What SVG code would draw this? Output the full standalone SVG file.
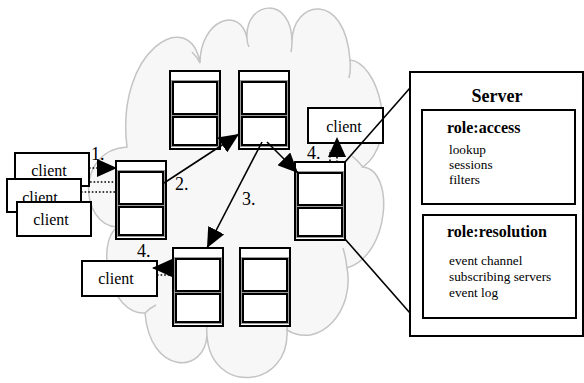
<svg xmlns="http://www.w3.org/2000/svg" xmlns:xlink="http://www.w3.org/1999/xlink" width="584" height="383" viewBox="0 0 584 383">
<style>
.cloud{fill:#f7f7f7;stroke:#c4c4c4;stroke-width:1.5}
.inner{fill:none;stroke:#c4c4c4;stroke-width:1.5}
.box{fill:#fff;stroke:#000;stroke-width:2}
.halo{fill:none;stroke:#9a9a9a;stroke-width:4}
.ln{stroke:#000;stroke-width:1.6;fill:none}
.dot{stroke:#000;stroke-width:1.6;fill:none;stroke-dasharray:1.6 2}
.t{font-family:"Liberation Serif","Times New Roman",serif;fill:#000}
.cl{font-size:16px;text-anchor:middle}
.num{font-size:18px}
.b{font-weight:bold}
.sm{font-size:13.3px}
</style>
<defs>
<marker id="ah" markerUnits="userSpaceOnUse" markerWidth="20" markerHeight="18" refX="20" refY="9" orient="auto" viewBox="0 0 20 18"><path d="M0,0 L20,9 L0,18 z" fill="#000"/></marker>
<g id="srv">
<rect class="box" x="0" y="0" width="50" height="78"/>
<rect class="halo" x="3" y="11" width="44" height="32"/>
<rect class="halo" x="3" y="46" width="44" height="28"/>
<rect class="box" x="3" y="11" width="44" height="32"/>
<rect class="box" x="3" y="46" width="44" height="28"/>
</g>
</defs>

<g id="cloud">
<path class="cloud" d="M127,147 C115,50 190,5 200,63 C200,20 240,5 247,38 C245,0 292,-5 292,42 C292,0 345,-10 350,60 C378,62 400,140 363,167 C395,170 390,255 347,268 C355,310 320,350 287,330 C290,390 210,395 207,335 C205,375 150,375 145,313 C110,315 95,245 117,227 C80,225 75,150 127,147 Z"/>
<path class="inner" d="M200,63 Q197,57 192,52 M247,38 Q247,43 249,47 M292,42 Q292,47 291,52 M350,60 Q351,70 349,78 M363,167 Q357,160 352,156 M347,268 Q346,258 343,248 M287,330 Q288,320 285,312 M207,335 Q206,327 208,320 M145,313 Q150,308 156,305 M117,227 Q121,232 126,235"/>
</g>

<g id="server-top-left"><use xlink:href="#srv" href="#srv" x="170" y="71"/></g>
<g id="server-top-mid"><use xlink:href="#srv" href="#srv" x="239" y="71"/></g>
<g id="server-entry"><use xlink:href="#srv" href="#srv" x="116" y="161"/></g>
<g id="server-right"><use xlink:href="#srv" href="#srv" x="295" y="162"/></g>
<g id="server-bottom-left"><use xlink:href="#srv" href="#srv" x="173" y="248"/></g>
<g id="server-bottom-right"><use xlink:href="#srv" href="#srv" x="240" y="248"/></g>

<g id="client-1"><rect class="box" x="15" y="153" width="74" height="33"/><text class="t cl" x="49" y="176">client</text></g>
<g id="client-2"><rect class="box" x="7" y="179" width="74" height="33"/><text class="t cl" x="40" y="203">client</text></g>
<g id="client-3"><rect class="box" x="17" y="202" width="74" height="34"/><text class="t cl" x="51" y="225">client</text></g>
<g id="client-top"><rect class="box" x="308" y="108" width="75" height="35"/><text class="t cl" x="344" y="132">client</text></g>
<g id="client-bottom"><rect class="box" x="82" y="261" width="75" height="35"/><text class="t cl" x="116" y="284">client</text></g>

<g id="server-detail">
<rect class="box" x="410" y="72" width="173" height="264"/>
<text class="t b" x="497" y="102" font-size="18" text-anchor="middle">Server</text>
<g id="role-access">
<rect class="box" x="422" y="110" width="153" height="94"/>
<text class="t b" x="447" y="133" font-size="16">role:access</text>
<text class="t sm" x="449" y="154">lookup</text>
<text class="t sm" x="449" y="169">sessions</text>
<text class="t sm" x="449" y="184">filters</text>
</g>
<g id="role-resolution">
<rect class="box" x="423" y="215" width="153" height="103"/>
<text class="t b" x="447" y="237" font-size="16">role:resolution</text>
<text class="t sm" x="449" y="265">event channel</text>
<text class="t sm" x="449" y="281">subscribing servers</text>
<text class="t sm" x="449" y="297">event log</text>
</g>
</g>

<g id="connectors">
<line class="dot" x1="89" y1="168" x2="117" y2="168" marker-end="url(#ah)"/>
<line class="dot" x1="90" y1="182" x2="115" y2="182"/>
<line class="dot" x1="81" y1="192" x2="115" y2="192"/>
<line class="ln" x1="164" y1="183" x2="239" y2="134" marker-end="url(#ah)"/>
<line class="ln" x1="262" y1="142" x2="207" y2="248" marker-end="url(#ah)"/>
<line class="ln" x1="267" y1="142" x2="298" y2="173" marker-end="url(#ah)"/>
<line class="dot" x1="337" y1="162" x2="337" y2="137" marker-end="url(#ah)"/>
<line class="dot" x1="330" y1="161" x2="330" y2="150"/>
<line class="dot" x1="173" y1="268" x2="152" y2="268" marker-end="url(#ah)"/>
<line class="dot" x1="173" y1="275" x2="157" y2="275"/>
<line class="ln" x1="345" y1="162" x2="410" y2="88"/>
<line class="ln" x1="345" y1="239" x2="410" y2="313"/>
</g>

<g id="labels">
<text class="t num" x="91" y="160">1.</text>
<text class="t num" x="175" y="190">2.</text>
<text class="t num" x="242" y="205">3.</text>
<text class="t num" x="307" y="159">4.</text>
<text class="t num" x="137" y="257">4.</text>
</g>
</svg>
